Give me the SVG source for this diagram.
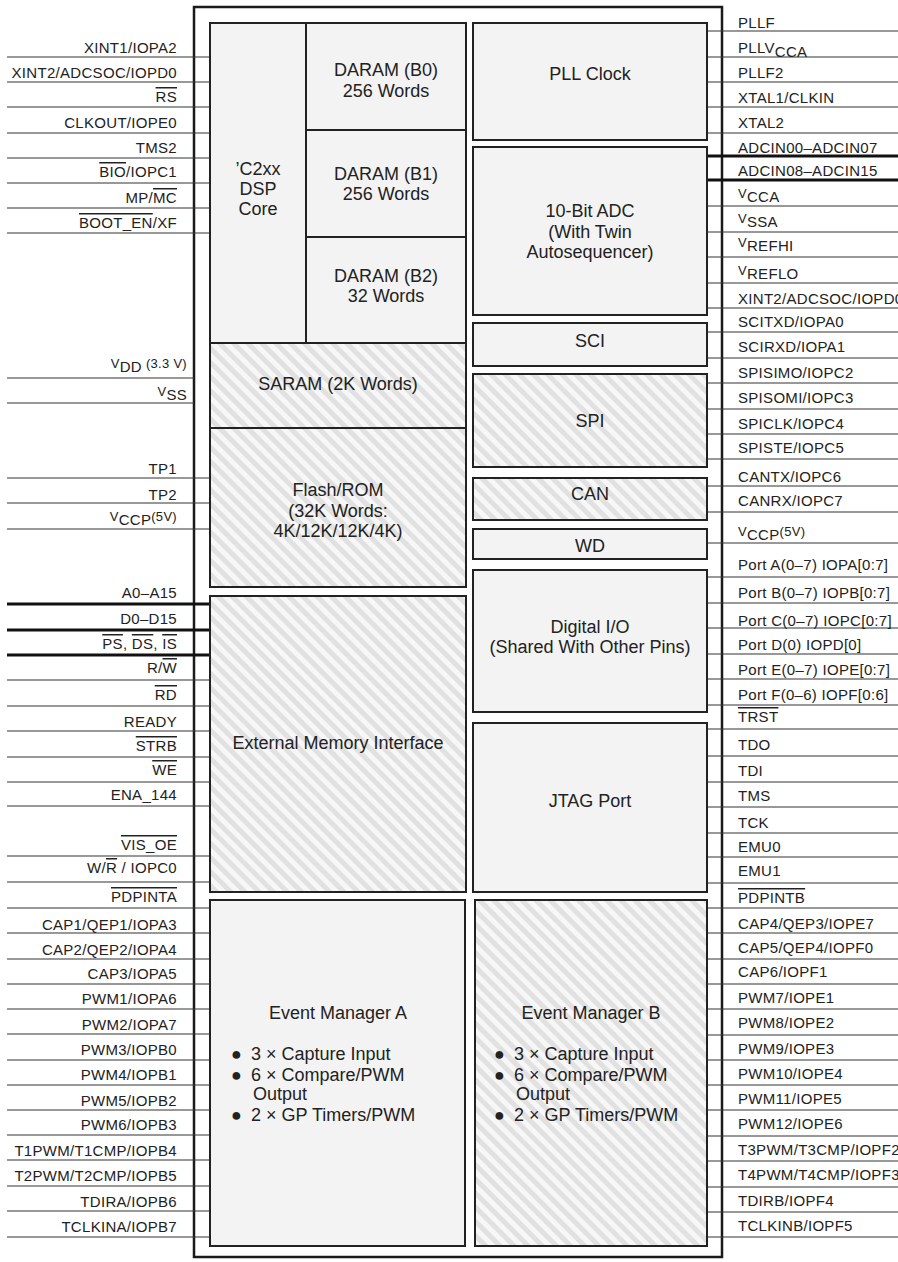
<svg xmlns="http://www.w3.org/2000/svg" width="898" height="1262" viewBox="0 0 898 1262">
<style>
text{font-family:"Liberation Sans",Arial,sans-serif;fill:#222}
.pl{font-size:15px;letter-spacing:0.3px;text-anchor:end}
.pr{font-size:15px;letter-spacing:0.3px}
.bl{font-size:18px;text-anchor:middle}
.bu{font-size:18px}
.ol{text-decoration:overline}
.w{stroke:#333;stroke-width:1.2;fill:none}
.t{stroke:#111;stroke-width:3;fill:none}
.blk{fill:#f3f3f3;stroke:#222;stroke-width:2}
.hat{fill:url(#hatch);stroke:#222;stroke-width:2}
</style>
<defs>
<pattern id="hatch" patternUnits="userSpaceOnUse" width="10" height="10" patternTransform="rotate(-45)">
<rect width="10" height="10" fill="#f7f7f7"/>
<rect width="5" height="10" fill="#e1e1e1"/>
</pattern>
</defs>
<rect x="0" y="0" width="898" height="1262" fill="#fff"/>
<g id="chip"><rect x="194" y="7" width="528" height="1250" fill="#fff" stroke="#1a1a1a" stroke-width="2.5"/></g>

<g id="connectors">
<line class="w" x1="7" y1="57" x2="209" y2="57"/>
<line class="w" x1="7" y1="82" x2="209" y2="82"/>
<line class="w" x1="7" y1="107" x2="209" y2="107"/>
<line class="w" x1="7" y1="133" x2="209" y2="133"/>
<line class="w" x1="7" y1="158" x2="209" y2="158"/>
<line class="w" x1="7" y1="183" x2="209" y2="183"/>
<line class="w" x1="7" y1="208" x2="209" y2="208"/>
<line class="w" x1="7" y1="233" x2="209" y2="233"/>
<line class="w" x1="7" y1="378" x2="194" y2="378"/>
<line class="w" x1="7" y1="403" x2="194" y2="403"/>
<line class="w" x1="7" y1="478" x2="209" y2="478"/>
<line class="w" x1="7" y1="503" x2="209" y2="503"/>
<line class="w" x1="7" y1="529" x2="209" y2="529"/>
<line class="t" x1="7" y1="604" x2="211" y2="604"/>
<line class="t" x1="7" y1="630" x2="211" y2="630"/>
<line class="t" x1="7" y1="655" x2="211" y2="655"/>
<line class="w" x1="7" y1="680" x2="209" y2="680"/>
<line class="w" x1="7" y1="706" x2="209" y2="706"/>
<line class="w" x1="7" y1="731" x2="209" y2="731"/>
<line class="w" x1="7" y1="757" x2="209" y2="757"/>
<line class="w" x1="7" y1="782" x2="209" y2="782"/>
<line class="w" x1="7" y1="806" x2="209" y2="806"/>
<line class="w" x1="7" y1="856" x2="209" y2="856"/>
<line class="w" x1="7" y1="882" x2="209" y2="882"/>
<line class="w" x1="7" y1="908" x2="209" y2="908"/>
<line class="w" x1="7" y1="933" x2="209" y2="933"/>
<line class="w" x1="7" y1="959" x2="209" y2="959"/>
<line class="w" x1="7" y1="984" x2="209" y2="984"/>
<line class="w" x1="7" y1="1009" x2="209" y2="1009"/>
<line class="w" x1="7" y1="1034" x2="209" y2="1034"/>
<line class="w" x1="7" y1="1060" x2="209" y2="1060"/>
<line class="w" x1="7" y1="1085" x2="209" y2="1085"/>
<line class="w" x1="7" y1="1110" x2="209" y2="1110"/>
<line class="w" x1="7" y1="1135" x2="209" y2="1135"/>
<line class="w" x1="7" y1="1160" x2="209" y2="1160"/>
<line class="w" x1="7" y1="1186" x2="209" y2="1186"/>
<line class="w" x1="7" y1="1211" x2="209" y2="1211"/>
<line class="w" x1="7" y1="1237" x2="209" y2="1237"/>

<line class="w" x1="707" y1="31" x2="898" y2="31"/>
<line class="w" x1="707" y1="57" x2="898" y2="57"/>
<line class="w" x1="707" y1="82" x2="898" y2="82"/>
<line class="w" x1="707" y1="107" x2="898" y2="107"/>
<line class="w" x1="707" y1="133" x2="898" y2="133"/>
<line class="t" x1="707" y1="156" x2="898" y2="156"/>
<line class="t" x1="707" y1="180" x2="898" y2="180"/>
<line class="w" x1="707" y1="206" x2="898" y2="206"/>
<line class="w" x1="707" y1="232" x2="898" y2="232"/>
<line class="w" x1="707" y1="257" x2="898" y2="257"/>
<line class="w" x1="707" y1="283" x2="898" y2="283"/>
<line class="w" x1="707" y1="308" x2="898" y2="308"/>
<line class="w" x1="707" y1="332" x2="898" y2="332"/>
<line class="w" x1="707" y1="358" x2="898" y2="358"/>
<line class="w" x1="707" y1="383" x2="898" y2="383"/>
<line class="w" x1="707" y1="409" x2="898" y2="409"/>
<line class="w" x1="707" y1="434" x2="898" y2="434"/>
<line class="w" x1="707" y1="459" x2="898" y2="459"/>
<line class="w" x1="707" y1="486" x2="898" y2="486"/>
<line class="w" x1="707" y1="512" x2="898" y2="512"/>
<line class="w" x1="707" y1="543" x2="898" y2="543"/>
<line class="w" x1="707" y1="577" x2="898" y2="577"/>
<line class="w" x1="707" y1="603" x2="898" y2="603"/>
<line class="w" x1="707" y1="628" x2="898" y2="628"/>
<line class="w" x1="707" y1="654" x2="898" y2="654"/>
<line class="w" x1="707" y1="679" x2="898" y2="679"/>
<line class="w" x1="707" y1="705" x2="898" y2="705"/>
<line class="w" x1="707" y1="729" x2="898" y2="729"/>
<line class="w" x1="707" y1="756" x2="898" y2="756"/>
<line class="w" x1="707" y1="782" x2="898" y2="782"/>
<line class="w" x1="707" y1="807" x2="898" y2="807"/>
<line class="w" x1="707" y1="833" x2="898" y2="833"/>
<line class="w" x1="707" y1="857" x2="898" y2="857"/>
<line class="w" x1="707" y1="883" x2="898" y2="883"/>
<line class="w" x1="707" y1="908" x2="898" y2="908"/>
<line class="w" x1="707" y1="933" x2="898" y2="933"/>
<line class="w" x1="707" y1="959" x2="898" y2="959"/>
<line class="w" x1="707" y1="984" x2="898" y2="984"/>
<line class="w" x1="707" y1="1009" x2="898" y2="1009"/>
<line class="w" x1="707" y1="1035" x2="898" y2="1035"/>
<line class="w" x1="707" y1="1060" x2="898" y2="1060"/>
<line class="w" x1="707" y1="1085" x2="898" y2="1085"/>
<line class="w" x1="707" y1="1110" x2="898" y2="1110"/>
<line class="w" x1="707" y1="1136" x2="898" y2="1136"/>
<line class="w" x1="707" y1="1161" x2="898" y2="1161"/>
<line class="w" x1="707" y1="1187" x2="898" y2="1187"/>
<line class="w" x1="707" y1="1212" x2="898" y2="1212"/>
<line class="w" x1="707" y1="1237" x2="898" y2="1237"/>
</g>

<g id="dsp-core"><rect class="blk" x="210" y="23" width="96" height="320"/>
<text class="bl" x="258" y="175">’C2xx</text><text class="bl" x="258" y="195">DSP</text><text class="bl" x="258" y="215">Core</text></g>
<g id="daram-b0"><rect class="blk" x="306" y="23" width="160" height="107"/>
<text class="bl" x="386" y="76">DARAM (B0)</text><text class="bl" x="386" y="97">256 Words</text></g>
<g id="daram-b1"><rect class="blk" x="306" y="130" width="160" height="107"/>
<text class="bl" x="386" y="180">DARAM (B1)</text><text class="bl" x="386" y="200">256 Words</text></g>
<g id="daram-b2"><rect class="blk" x="306" y="237" width="160" height="106"/>
<text class="bl" x="386" y="282">DARAM (B2)</text><text class="bl" x="386" y="302">32 Words</text></g>
<g id="saram"><rect class="hat" x="210" y="343" width="256" height="85"/>
<text class="bl" x="338" y="390">SARAM (2K Words)</text></g>
<g id="flash"><rect class="hat" x="210" y="428" width="256" height="159"/>
<text class="bl" x="338" y="496">Flash/ROM</text><text class="bl" x="338" y="517">(32K Words:</text><text class="bl" x="338" y="537">4K/12K/12K/4K)</text></g>
<g id="ext-mem"><rect class="hat" x="210" y="596" width="256" height="296"/>
<text class="bl" x="338" y="749">External Memory Interface</text></g>
<g id="ev-a"><rect class="blk" x="210" y="900" width="255" height="346"/>
<text class="bl" x="338" y="1019">Event Manager A</text>
<text class="bu" x="231" y="1060">●</text><text class="bu" x="251" y="1060">3 × Capture Input</text>
<text class="bu" x="231" y="1081">●</text><text class="bu" x="251" y="1081">6 × Compare/PWM</text>
<text class="bu" x="253" y="1100">Output</text>
<text class="bu" x="231" y="1121">●</text><text class="bu" x="251" y="1121">2 × GP Timers/PWM</text></g>

<g id="pll"><rect class="blk" x="473" y="23" width="234" height="117"/>
<text class="bl" x="590" y="80">PLL Clock</text></g>
<g id="adc"><rect class="blk" x="473" y="147" width="234" height="168"/>
<text class="bl" x="590" y="217">10-Bit ADC</text><text class="bl" x="590" y="238">(With Twin</text><text class="bl" x="590" y="258">Autosequencer)</text></g>
<g id="sci"><rect class="blk" x="473" y="323" width="234" height="43"/>
<text class="bl" x="590" y="347">SCI</text></g>
<g id="spi"><rect class="hat" x="473" y="374" width="234" height="93"/>
<text class="bl" x="590" y="427">SPI</text></g>
<g id="can"><rect class="hat" x="473" y="478" width="234" height="42"/>
<text class="bl" x="590" y="500">CAN</text></g>
<g id="wd"><rect class="blk" x="473" y="529" width="234" height="30"/>
<text class="bl" x="590" y="552">WD</text></g>
<g id="dio"><rect class="blk" x="473" y="570" width="234" height="142"/>
<text class="bl" x="590" y="633">Digital I/O</text><text class="bl" x="590" y="653">(Shared With Other Pins)</text></g>
<g id="jtag"><rect class="blk" x="473" y="723" width="234" height="169"/>
<text class="bl" x="590" y="807">JTAG Port</text></g>
<g id="ev-b"><rect class="hat" x="475" y="900" width="232" height="346"/>
<text class="bl" x="591" y="1019">Event Manager B</text>
<text class="bu" x="494" y="1060">●</text><text class="bu" x="514" y="1060">3 × Capture Input</text>
<text class="bu" x="494" y="1081">●</text><text class="bu" x="514" y="1081">6 × Compare/PWM</text>
<text class="bu" x="516" y="1100">Output</text>
<text class="bu" x="494" y="1121">●</text><text class="bu" x="514" y="1121">2 × GP Timers/PWM</text></g>

<g id="pins-left">
<text class="pl" x="177" y="53">XINT1/IOPA2</text>
<text class="pl" x="177" y="78">XINT2/ADCSOC/IOPD0</text>
<text class="pl" x="177" y="102"><tspan class="ol">RS</tspan></text>
<text class="pl" x="177" y="128">CLKOUT/IOPE0</text>
<text class="pl" x="177" y="153">TMS2</text>
<text class="pl" x="177" y="177"><tspan class="ol">BIO</tspan>/IOPC1</text>
<text class="pl" x="177" y="203">MP/<tspan class="ol">MC</tspan></text>
<text class="pl" x="177" y="228"><tspan class="ol">BOOT_EN</tspan>/XF</text>
<text class="pl" x="187" y="372"><tspan font-size="13" dy="-4">V</tspan><tspan dy="4">DD</tspan><tspan font-size="13" dy="-4"> (3.3 V)</tspan></text>
<text class="pl" x="187" y="400"><tspan font-size="13" dy="-4">V</tspan><tspan dy="4">SS</tspan></text>
<text class="pl" x="177" y="474">TP1</text>
<text class="pl" x="177" y="500">TP2</text>
<text class="pl" x="177" y="525"><tspan font-size="13" dy="-4">V</tspan><tspan dy="4">CCP</tspan><tspan font-size="13" dy="-4">(5V)</tspan></text>
<text class="pl" x="177" y="598">A0–A15</text>
<text class="pl" x="177" y="624">D0–D15</text>
<text class="pl" x="177" y="649"><tspan class="ol">PS</tspan>, <tspan class="ol">DS</tspan>, <tspan class="ol">IS</tspan></text>
<text class="pl" x="177" y="673">R/<tspan class="ol">W</tspan></text>
<text class="pl" x="177" y="700"><tspan class="ol">RD</tspan></text>
<text class="pl" x="177" y="727">READY</text>
<text class="pl" x="177" y="751"><tspan class="ol">STRB</tspan></text>
<text class="pl" x="177" y="775"><tspan class="ol">WE</tspan></text>
<text class="pl" x="177" y="800">ENA_144</text>
<text class="pl" x="177" y="850"><tspan class="ol">VIS_OE</tspan></text>
<text class="pl" x="177" y="873">W/<tspan class="ol">R</tspan> / IOPC0</text>
<text class="pl" x="177" y="902"><tspan class="ol">PDPINTA</tspan></text>
<text class="pl" x="177" y="930">CAP1/QEP1/IOPA3</text>
<text class="pl" x="177" y="955">CAP2/QEP2/IOPA4</text>
<text class="pl" x="177" y="979">CAP3/IOPA5</text>
<text class="pl" x="177" y="1004">PWM1/IOPA6</text>
<text class="pl" x="177" y="1030">PWM2/IOPA7</text>
<text class="pl" x="177" y="1055">PWM3/IOPB0</text>
<text class="pl" x="177" y="1080">PWM4/IOPB1</text>
<text class="pl" x="177" y="1106">PWM5/IOPB2</text>
<text class="pl" x="177" y="1130">PWM6/IOPB3</text>
<text class="pl" x="177" y="1156">T1PWM/T1CMP/IOPB4</text>
<text class="pl" x="177" y="1181">T2PWM/T2CMP/IOPB5</text>
<text class="pl" x="177" y="1207">TDIRA/IOPB6</text>
<text class="pl" x="177" y="1232">TCLKINA/IOPB7</text>
</g>

<g id="pins-right">
<text class="pr" x="738" y="28">PLLF</text>
<text class="pr" x="738" y="53">PLLV<tspan dy="4">CCA</tspan></text>
<text class="pr" x="738" y="78">PLLF2</text>
<text class="pr" x="738" y="103">XTAL1/CLKIN</text>
<text class="pr" x="738" y="128">XTAL2</text>
<text class="pr" x="738" y="153">ADCIN00–ADCIN07</text>
<text class="pr" x="738" y="176">ADCIN08–ADCIN15</text>
<text class="pr" x="738" y="202"><tspan font-size="13" dy="-4">V</tspan><tspan dy="4">CCA</tspan></text>
<text class="pr" x="738" y="227"><tspan font-size="13" dy="-4">V</tspan><tspan dy="4">SSA</tspan></text>
<text class="pr" x="738" y="251"><tspan font-size="13" dy="-4">V</tspan><tspan dy="4">REFHI</tspan></text>
<text class="pr" x="738" y="279"><tspan font-size="13" dy="-4">V</tspan><tspan dy="4">REFLO</tspan></text>
<text class="pr" x="738" y="304">XINT2/ADCSOC/IOPD0</text>
<text class="pr" x="738" y="327">SCITXD/IOPA0</text>
<text class="pr" x="738" y="352">SCIRXD/IOPA1</text>
<text class="pr" x="738" y="378">SPISIMO/IOPC2</text>
<text class="pr" x="738" y="403">SPISOMI/IOPC3</text>
<text class="pr" x="738" y="429">SPICLK/IOPC4</text>
<text class="pr" x="738" y="453">SPISTE/IOPC5</text>
<text class="pr" x="738" y="482">CANTX/IOPC6</text>
<text class="pr" x="738" y="506">CANRX/IOPC7</text>
<text class="pr" x="738" y="540"><tspan font-size="13" dy="-4">V</tspan><tspan dy="4">CCP</tspan><tspan font-size="13" dy="-4">(5V)</tspan></text>
<text class="pr" x="738" y="570">Port A(0–7) IOPA[0:7]</text>
<text class="pr" x="738" y="598">Port B(0–7) IOPB[0:7]</text>
<text class="pr" x="738" y="626">Port C(0–7) IOPC[0:7]</text>
<text class="pr" x="738" y="650">Port D(0) IOPD[0]</text>
<text class="pr" x="738" y="675">Port E(0–7) IOPE[0:7]</text>
<text class="pr" x="738" y="700">Port F(0–6) IOPF[0:6]</text>
<text class="pr" x="738" y="722"><tspan class="ol">TRST</tspan></text>
<text class="pr" x="738" y="750">TDO</text>
<text class="pr" x="738" y="776">TDI</text>
<text class="pr" x="738" y="801">TMS</text>
<text class="pr" x="738" y="828">TCK</text>
<text class="pr" x="738" y="852">EMU0</text>
<text class="pr" x="738" y="876">EMU1</text>
<text class="pr" x="738" y="903"><tspan class="ol">PDPINTB</tspan></text>
<text class="pr" x="738" y="929">CAP4/QEP3/IOPE7</text>
<text class="pr" x="738" y="953">CAP5/QEP4/IOPF0</text>
<text class="pr" x="738" y="977">CAP6/IOPF1</text>
<text class="pr" x="738" y="1003">PWM7/IOPE1</text>
<text class="pr" x="738" y="1028">PWM8/IOPE2</text>
<text class="pr" x="738" y="1054">PWM9/IOPE3</text>
<text class="pr" x="738" y="1079">PWM10/IOPE4</text>
<text class="pr" x="738" y="1104">PWM11/IOPE5</text>
<text class="pr" x="738" y="1129">PWM12/IOPE6</text>
<text class="pr" x="738" y="1155">T3PWM/T3CMP/IOPF2</text>
<text class="pr" x="738" y="1180">T4PWM/T4CMP/IOPF3</text>
<text class="pr" x="738" y="1206">TDIRB/IOPF4</text>
<text class="pr" x="738" y="1231">TCLKINB/IOPF5</text>
</g>
</svg>
